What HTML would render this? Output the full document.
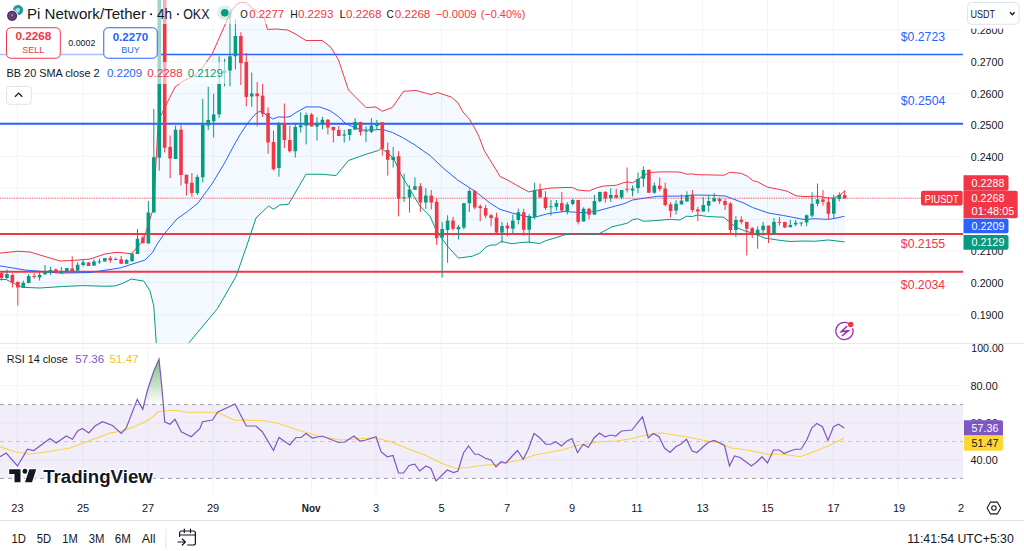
<!DOCTYPE html><html><head><meta charset="utf-8"><style>
html,body{margin:0;padding:0;background:#fff;width:1024px;height:551px;overflow:hidden}
svg{display:block;font-family:"Liberation Sans",sans-serif}
</style></head><body>
<svg width="1024" height="551" viewBox="0 0 1024 551">
<defs>
<clipPath id="pp"><rect x="0" y="0" width="963" height="343"/></clipPath>
<clipPath id="rp"><rect x="0" y="344" width="963" height="150"/></clipPath>
<clipPath id="above70"><rect x="0" y="344" width="963" height="60.6"/></clipPath>
<linearGradient id="gg" gradientUnits="userSpaceOnUse" x1="0" y1="359" x2="0" y2="404.6"><stop offset="0" stop-color="#43a047" stop-opacity="0.7"/><stop offset="1" stop-color="#43a047" stop-opacity="0"/></linearGradient>
</defs>
<line x1="17.5" y1="0" x2="17.5" y2="494" stroke="#f3f4f8" stroke-width="1"/>
<line x1="83" y1="0" x2="83" y2="494" stroke="#f3f4f8" stroke-width="1"/>
<line x1="148" y1="0" x2="148" y2="494" stroke="#f3f4f8" stroke-width="1"/>
<line x1="213" y1="0" x2="213" y2="494" stroke="#f3f4f8" stroke-width="1"/>
<line x1="311.5" y1="0" x2="311.5" y2="494" stroke="#f3f4f8" stroke-width="1"/>
<line x1="376" y1="0" x2="376" y2="494" stroke="#f3f4f8" stroke-width="1"/>
<line x1="441.5" y1="0" x2="441.5" y2="494" stroke="#f3f4f8" stroke-width="1"/>
<line x1="507" y1="0" x2="507" y2="494" stroke="#f3f4f8" stroke-width="1"/>
<line x1="572" y1="0" x2="572" y2="494" stroke="#f3f4f8" stroke-width="1"/>
<line x1="637" y1="0" x2="637" y2="494" stroke="#f3f4f8" stroke-width="1"/>
<line x1="702.5" y1="0" x2="702.5" y2="494" stroke="#f3f4f8" stroke-width="1"/>
<line x1="767.5" y1="0" x2="767.5" y2="494" stroke="#f3f4f8" stroke-width="1"/>
<line x1="833.5" y1="0" x2="833.5" y2="494" stroke="#f3f4f8" stroke-width="1"/>
<line x1="898" y1="0" x2="898" y2="494" stroke="#f3f4f8" stroke-width="1"/>
<line x1="0" y1="29.9" x2="963" y2="29.9" stroke="#f3f4f8" stroke-width="1"/>
<line x1="0" y1="61.7" x2="963" y2="61.7" stroke="#f3f4f8" stroke-width="1"/>
<line x1="0" y1="93.4" x2="963" y2="93.4" stroke="#f3f4f8" stroke-width="1"/>
<line x1="0" y1="124.9" x2="963" y2="124.9" stroke="#f3f4f8" stroke-width="1"/>
<line x1="0" y1="156.4" x2="963" y2="156.4" stroke="#f3f4f8" stroke-width="1"/>
<line x1="0" y1="187.9" x2="963" y2="187.9" stroke="#f3f4f8" stroke-width="1"/>
<line x1="0" y1="219.4" x2="963" y2="219.4" stroke="#f3f4f8" stroke-width="1"/>
<line x1="0" y1="250.9" x2="963" y2="250.9" stroke="#f3f4f8" stroke-width="1"/>
<line x1="0" y1="282.5" x2="963" y2="282.5" stroke="#f3f4f8" stroke-width="1"/>
<line x1="0" y1="314.9" x2="963" y2="314.9" stroke="#f3f4f8" stroke-width="1"/>
<line x1="0" y1="348" x2="963" y2="348" stroke="#f3f4f8" stroke-width="1"/>
<line x1="0" y1="385.7" x2="963" y2="385.7" stroke="#f3f4f8" stroke-width="1"/>
<line x1="0" y1="422.9" x2="963" y2="422.9" stroke="#f3f4f8" stroke-width="1"/>
<line x1="0" y1="460.2" x2="963" y2="460.2" stroke="#f3f4f8" stroke-width="1"/>
<g clip-path="url(#pp)">
<polygon points="0.00,253.10 18.00,251.25 30.00,252.00 60.00,261.00 75.00,260.30 90.00,259.00 105.00,254.00 115.00,252.50 120.00,252.50 131.25,253.75 143.00,241.00 150.00,219.00 153.75,207.00 156.00,162.00 158.00,125.00 160.60,116.00 175.00,87.00 183.75,80.60 193.75,76.25 202.25,68.00 212.25,53.75 231.00,11.25 237.25,3.75 240.40,2.50 246.25,2.75 251.25,7.50 258.75,12.50 264.40,18.75 267.50,29.40 276.25,29.00 287.50,30.00 295.00,33.75 306.00,40.50 322.25,40.50 331.00,47.50 338.50,60.00 348.50,90.00 366.00,107.50 376.00,107.00 382.25,111.25 392.25,107.50 403.50,91.25 416.00,90.50 431.00,94.50 437.25,92.50 451.40,97.10 458.00,102.90 462.90,111.80 469.40,119.20 474.30,127.30 479.20,137.10 484.10,150.20 489.00,158.40 496.30,170.00 500.00,176.50 507.50,180.00 516.25,185.00 528.75,191.90 537.50,190.00 550.00,188.10 564.00,187.50 572.50,187.50 577.50,190.00 588.75,191.00 597.50,187.50 603.75,186.00 616.25,185.25 624.00,182.50 627.50,181.90 632.50,182.75 637.50,180.00 643.75,175.00 651.25,172.50 660.00,171.90 676.25,171.90 681.10,172.30 686.60,174.20 691.25,173.90 697.50,174.70 724.00,175.20 729.50,172.30 741.20,173.30 747.80,176.50 752.70,180.60 757.60,181.80 767.40,187.20 778.80,189.30 787.00,191.20 796.00,195.80 805.00,196.60 818.00,196.10 827.80,198.10 834.40,197.80 839.30,195.30 845.00,190.90 844.50,241.90 828.50,240.00 814.75,241.25 804.00,241.00 790.00,241.50 777.50,240.00 765.00,238.10 752.50,233.10 744.00,230.60 736.25,227.50 730.00,222.50 723.75,217.25 707.50,216.50 697.50,215.00 692.50,216.50 686.25,216.25 680.00,220.00 670.00,219.40 655.00,220.60 643.75,221.25 637.50,218.75 632.50,219.75 627.50,223.10 620.00,225.00 612.00,226.75 598.25,234.25 572.00,233.75 563.75,235.00 554.75,238.10 546.00,240.60 539.75,243.50 528.50,242.10 521.00,242.50 512.25,243.75 506.00,242.50 501.60,241.25 496.00,245.00 491.00,245.00 486.00,246.90 479.75,253.10 472.25,256.25 458.50,258.10 448.50,247.50 441.00,237.50 435.00,227.50 430.00,216.25 420.00,206.25 415.00,198.00 408.75,187.50 401.25,175.00 393.75,158.75 387.50,152.50 381.00,148.50 378.50,150.50 366.00,154.25 348.50,160.50 336.00,175.50 321.00,174.25 306.00,174.25 288.50,204.25 279.75,205.00 273.50,209.25 268.50,206.00 256.00,218.00 246.00,248.00 236.25,276.00 217.50,308.50 188.75,343.00 188.00,360.00 157.00,360.00 156.25,343.00 153.75,306.00 150.00,291.00 143.75,281.00 140.00,280.50 131.25,279.00 122.50,283.50 115.00,286.00 105.00,286.25 82.50,285.60 62.50,286.50 40.00,288.00 22.00,287.30 6.00,279.50 0.00,279.50" fill="#2196f3" fill-opacity="0.055" stroke="none"/>
<line x1="0" y1="54.45" x2="963" y2="54.45" stroke="#2962ff" stroke-width="1.6"/>
<line x1="0" y1="123.8" x2="963" y2="123.8" stroke="#2962ff" stroke-width="2"/>
<line x1="0" y1="234.1" x2="963" y2="234.1" stroke="#f23645" stroke-width="2"/>
<line x1="0" y1="271.7" x2="963" y2="271.7" stroke="#f23645" stroke-width="2"/>
<polyline points="0.00,253.10 18.00,251.25 30.00,252.00 60.00,261.00 75.00,260.30 90.00,259.00 105.00,254.00 115.00,252.50 120.00,252.50 131.25,253.75 143.00,241.00 150.00,219.00 153.75,207.00 156.00,162.00 158.00,125.00 160.60,116.00 175.00,87.00 183.75,80.60 193.75,76.25 202.25,68.00 212.25,53.75 231.00,11.25 237.25,3.75 240.40,2.50 246.25,2.75 251.25,7.50 258.75,12.50 264.40,18.75 267.50,29.40 276.25,29.00 287.50,30.00 295.00,33.75 306.00,40.50 322.25,40.50 331.00,47.50 338.50,60.00 348.50,90.00 366.00,107.50 376.00,107.00 382.25,111.25 392.25,107.50 403.50,91.25 416.00,90.50 431.00,94.50 437.25,92.50 451.40,97.10 458.00,102.90 462.90,111.80 469.40,119.20 474.30,127.30 479.20,137.10 484.10,150.20 489.00,158.40 496.30,170.00 500.00,176.50 507.50,180.00 516.25,185.00 528.75,191.90 537.50,190.00 550.00,188.10 564.00,187.50 572.50,187.50 577.50,190.00 588.75,191.00 597.50,187.50 603.75,186.00 616.25,185.25 624.00,182.50 627.50,181.90 632.50,182.75 637.50,180.00 643.75,175.00 651.25,172.50 660.00,171.90 676.25,171.90 681.10,172.30 686.60,174.20 691.25,173.90 697.50,174.70 724.00,175.20 729.50,172.30 741.20,173.30 747.80,176.50 752.70,180.60 757.60,181.80 767.40,187.20 778.80,189.30 787.00,191.20 796.00,195.80 805.00,196.60 818.00,196.10 827.80,198.10 834.40,197.80 839.30,195.30 845.00,190.90" fill="none" stroke="#f23645" stroke-width="1"/>
<polyline points="0.00,265.90 25.00,270.00 60.00,273.10 90.00,272.50 120.00,268.00 145.00,260.00 152.50,252.50 157.20,244.00 164.50,233.50 176.90,219.00 187.25,211.70 197.60,203.50 212.00,183.80 224.50,163.10 234.70,144.00 240.80,133.50 247.80,123.00 253.90,115.60 258.20,112.10 260.80,111.25 266.10,114.70 273.00,119.10 278.30,116.90 285.20,117.30 290.00,116.50 296.00,112.50 306.00,106.90 320.00,107.00 330.00,110.60 338.75,116.90 345.00,123.00 351.25,126.25 362.50,130.00 372.50,130.00 382.50,129.40 392.50,132.50 402.50,137.50 415.00,145.00 430.00,155.60 444.00,168.75 457.50,180.00 475.00,191.25 490.00,203.00 500.00,209.40 512.50,213.10 525.00,216.25 533.75,217.50 547.50,213.75 564.00,211.50 576.25,212.25 585.00,212.75 596.25,211.25 610.00,207.50 624.00,203.75 632.50,200.00 645.00,198.10 657.50,196.25 684.00,196.00 692.50,195.00 711.25,195.25 725.00,196.00 732.50,198.75 744.00,203.10 752.50,207.50 768.75,213.10 783.75,215.60 804.00,219.50 814.75,218.75 828.50,219.40 836.00,218.10 844.50,216.25" fill="none" stroke="#2962ff" stroke-width="1"/>
<polyline points="0.00,279.50 6.00,279.50 22.00,287.30 40.00,288.00 62.50,286.50 82.50,285.60 105.00,286.25 115.00,286.00 122.50,283.50 131.25,279.00 140.00,280.50 143.75,281.00 150.00,291.00 153.75,306.00 156.25,343.00 157.00,360.00" fill="none" stroke="#089981" stroke-width="1"/>
<polyline points="188.00,360.00 188.75,343.00 217.50,308.50 236.25,276.00 246.00,248.00 256.00,218.00 268.50,206.00 273.50,209.25 279.75,205.00 288.50,204.25 306.00,174.25 321.00,174.25 336.00,175.50 348.50,160.50 366.00,154.25 378.50,150.50 381.00,148.50 387.50,152.50 393.75,158.75 401.25,175.00 408.75,187.50 415.00,198.00 420.00,206.25 430.00,216.25 435.00,227.50 441.00,237.50 448.50,247.50 458.50,258.10 472.25,256.25 479.75,253.10 486.00,246.90 491.00,245.00 496.00,245.00 501.60,241.25 506.00,242.50 512.25,243.75 521.00,242.50 528.50,242.10 539.75,243.50 546.00,240.60 554.75,238.10 563.75,235.00 572.00,233.75 598.25,234.25 612.00,226.75 620.00,225.00 627.50,223.10 632.50,219.75 637.50,218.75 643.75,221.25 655.00,220.60 670.00,219.40 680.00,220.00 686.25,216.25 692.50,216.50 697.50,215.00 707.50,216.50 723.75,217.25 730.00,222.50 736.25,227.50 744.00,230.60 752.50,233.10 765.00,238.10 777.50,240.00 790.00,241.50 804.00,241.00 814.75,241.25 828.50,240.00 844.50,241.90" fill="none" stroke="#089981" stroke-width="1"/>
<line x1="0" y1="198.2" x2="921" y2="198.2" stroke="#f23645" stroke-width="1" stroke-dasharray="0.85,0.93" stroke-opacity="0.95"/>
<line x1="1.50" y1="272.5" x2="1.50" y2="280.6" stroke="#f23645" stroke-width="1"/>
<rect x="-0.30" y="273.1" width="3.6" height="5.00" fill="#f23645"/>
<line x1="6.94" y1="269.4" x2="6.94" y2="278.8" stroke="#089981" stroke-width="1"/>
<rect x="5.14" y="274.0" width="3.6" height="4.10" fill="#089981"/>
<line x1="12.38" y1="273.5" x2="12.38" y2="287.5" stroke="#f23645" stroke-width="1"/>
<rect x="10.58" y="275.0" width="3.6" height="7.50" fill="#f23645"/>
<line x1="17.82" y1="281.5" x2="17.82" y2="305.6" stroke="#f23645" stroke-width="1"/>
<rect x="16.02" y="281.9" width="3.6" height="5.60" fill="#f23645"/>
<line x1="23.26" y1="280.6" x2="23.26" y2="287.5" stroke="#089981" stroke-width="1"/>
<rect x="21.46" y="282.8" width="3.6" height="4.70" fill="#089981"/>
<line x1="28.70" y1="274.0" x2="28.70" y2="283.1" stroke="#089981" stroke-width="1"/>
<rect x="26.90" y="276.0" width="3.6" height="7.10" fill="#089981"/>
<line x1="34.14" y1="273.1" x2="34.14" y2="278.8" stroke="#f23645" stroke-width="1"/>
<rect x="32.34" y="276.0" width="3.6" height="1.00" fill="#f23645"/>
<line x1="39.58" y1="270.6" x2="39.58" y2="280.6" stroke="#089981" stroke-width="1"/>
<rect x="37.78" y="275.0" width="3.6" height="2.50" fill="#089981"/>
<line x1="45.02" y1="265.0" x2="45.02" y2="274.4" stroke="#089981" stroke-width="1"/>
<rect x="43.22" y="271.3" width="3.6" height="3.10" fill="#089981"/>
<line x1="50.46" y1="266.9" x2="50.46" y2="275.0" stroke="#089981" stroke-width="1"/>
<rect x="48.66" y="270.0" width="3.6" height="1.00" fill="#089981"/>
<line x1="55.90" y1="268.5" x2="55.90" y2="273.5" stroke="#f23645" stroke-width="1"/>
<rect x="54.10" y="269.4" width="3.6" height="3.40" fill="#f23645"/>
<line x1="61.34" y1="266.9" x2="61.34" y2="273.8" stroke="#089981" stroke-width="1"/>
<rect x="59.54" y="271.0" width="3.6" height="2.10" fill="#089981"/>
<line x1="66.78" y1="268.0" x2="66.78" y2="272.0" stroke="#089981" stroke-width="1"/>
<rect x="64.98" y="268.1" width="3.6" height="3.80" fill="#089981"/>
<line x1="72.22" y1="256.3" x2="72.22" y2="271.3" stroke="#f23645" stroke-width="1"/>
<rect x="70.42" y="268.5" width="3.6" height="2.80" fill="#f23645"/>
<line x1="77.66" y1="262.3" x2="77.66" y2="270.6" stroke="#089981" stroke-width="1"/>
<rect x="75.86" y="264.8" width="3.6" height="5.80" fill="#089981"/>
<line x1="83.10" y1="259.4" x2="83.10" y2="266.3" stroke="#089981" stroke-width="1"/>
<rect x="81.30" y="262.3" width="3.6" height="2.70" fill="#089981"/>
<line x1="88.54" y1="262.0" x2="88.54" y2="266.0" stroke="#f23645" stroke-width="1"/>
<rect x="86.74" y="262.5" width="3.6" height="3.50" fill="#f23645"/>
<line x1="93.98" y1="259.4" x2="93.98" y2="265.6" stroke="#089981" stroke-width="1"/>
<rect x="92.18" y="261.5" width="3.6" height="4.10" fill="#089981"/>
<line x1="99.42" y1="258.8" x2="99.42" y2="263.8" stroke="#089981" stroke-width="1"/>
<rect x="97.62" y="261.3" width="3.6" height="1.00" fill="#089981"/>
<line x1="104.86" y1="258.0" x2="104.86" y2="261.5" stroke="#089981" stroke-width="1"/>
<rect x="103.06" y="258.1" width="3.6" height="3.40" fill="#089981"/>
<line x1="110.30" y1="256.0" x2="110.30" y2="262.8" stroke="#f23645" stroke-width="1"/>
<rect x="108.50" y="258.1" width="3.6" height="2.20" fill="#f23645"/>
<line x1="115.74" y1="257.5" x2="115.74" y2="260.0" stroke="#f23645" stroke-width="1"/>
<rect x="113.94" y="259.0" width="3.6" height="1.00" fill="#f23645"/>
<line x1="121.18" y1="256.0" x2="121.18" y2="263.8" stroke="#f23645" stroke-width="1"/>
<rect x="119.38" y="259.4" width="3.6" height="4.40" fill="#f23645"/>
<line x1="126.62" y1="259.0" x2="126.62" y2="263.8" stroke="#089981" stroke-width="1"/>
<rect x="124.82" y="260.0" width="3.6" height="3.80" fill="#089981"/>
<line x1="132.06" y1="253.0" x2="132.06" y2="261.5" stroke="#089981" stroke-width="1"/>
<rect x="130.26" y="253.75" width="3.6" height="7.50" fill="#089981"/>
<line x1="137.50" y1="229.0" x2="137.50" y2="254.0" stroke="#089981" stroke-width="1"/>
<rect x="135.70" y="238.75" width="3.6" height="15.25" fill="#089981"/>
<line x1="142.94" y1="235.6" x2="142.94" y2="243.5" stroke="#f23645" stroke-width="1"/>
<rect x="141.14" y="237.5" width="3.6" height="5.60" fill="#f23645"/>
<line x1="148.38" y1="201.0" x2="148.38" y2="243.5" stroke="#089981" stroke-width="1"/>
<rect x="146.58" y="212.5" width="3.6" height="31.00" fill="#089981"/>
<line x1="153.82" y1="108.75" x2="153.82" y2="212.5" stroke="#089981" stroke-width="1"/>
<rect x="152.02" y="157.25" width="3.6" height="55.25" fill="#089981"/>
<line x1="159.26" y1="-5.0" x2="159.26" y2="170.6" stroke="#089981" stroke-width="1"/>
<rect x="157.46" y="-5.0" width="3.6" height="162.75" fill="#089981"/>
<line x1="164.70" y1="-5.0" x2="164.70" y2="152.5" stroke="#f23645" stroke-width="1"/>
<rect x="162.90" y="-5.0" width="3.6" height="152.75" fill="#f23645"/>
<line x1="170.14" y1="135.6" x2="170.14" y2="178.1" stroke="#f23645" stroke-width="1"/>
<rect x="168.34" y="146.9" width="3.6" height="11.60" fill="#f23645"/>
<line x1="175.58" y1="125.6" x2="175.58" y2="159.0" stroke="#089981" stroke-width="1"/>
<rect x="173.78" y="129.75" width="3.6" height="29.25" fill="#089981"/>
<line x1="181.02" y1="125.0" x2="181.02" y2="185.6" stroke="#f23645" stroke-width="1"/>
<rect x="179.22" y="129.75" width="3.6" height="45.25" fill="#f23645"/>
<line x1="186.46" y1="174.75" x2="186.46" y2="195.5" stroke="#f23645" stroke-width="1"/>
<rect x="184.66" y="174.75" width="3.6" height="9.00" fill="#f23645"/>
<line x1="191.90" y1="173.1" x2="191.90" y2="196.75" stroke="#f23645" stroke-width="1"/>
<rect x="190.10" y="182.75" width="3.6" height="10.35" fill="#f23645"/>
<line x1="197.34" y1="174.75" x2="197.34" y2="195.0" stroke="#089981" stroke-width="1"/>
<rect x="195.54" y="176.9" width="3.6" height="16.20" fill="#089981"/>
<line x1="202.78" y1="98.75" x2="202.78" y2="182.5" stroke="#089981" stroke-width="1"/>
<rect x="200.98" y="124.4" width="3.6" height="52.85" fill="#089981"/>
<line x1="208.22" y1="86.9" x2="208.22" y2="130.0" stroke="#089981" stroke-width="1"/>
<rect x="206.42" y="120.0" width="3.6" height="5.60" fill="#089981"/>
<line x1="213.66" y1="93.75" x2="213.66" y2="137.5" stroke="#089981" stroke-width="1"/>
<rect x="211.86" y="114.4" width="3.6" height="6.85" fill="#089981"/>
<line x1="219.10" y1="56.25" x2="219.10" y2="118.0" stroke="#089981" stroke-width="1"/>
<rect x="217.30" y="83.75" width="3.6" height="30.65" fill="#089981"/>
<line x1="224.54" y1="58.75" x2="224.54" y2="86.25" stroke="#089981" stroke-width="1"/>
<rect x="222.74" y="70.6" width="3.6" height="2.50" fill="#089981"/>
<line x1="229.98" y1="11.9" x2="229.98" y2="86.25" stroke="#089981" stroke-width="1"/>
<rect x="228.18" y="56.25" width="3.6" height="14.35" fill="#089981"/>
<line x1="235.42" y1="19.4" x2="235.42" y2="69.4" stroke="#089981" stroke-width="1"/>
<rect x="233.62" y="36.0" width="3.6" height="20.25" fill="#089981"/>
<line x1="240.86" y1="32.25" x2="240.86" y2="85.0" stroke="#f23645" stroke-width="1"/>
<rect x="239.06" y="36.0" width="3.6" height="27.10" fill="#f23645"/>
<line x1="246.30" y1="53.1" x2="246.30" y2="106.25" stroke="#f23645" stroke-width="1"/>
<rect x="244.50" y="61.9" width="3.6" height="35.00" fill="#f23645"/>
<line x1="251.74" y1="72.5" x2="251.74" y2="106.9" stroke="#089981" stroke-width="1"/>
<rect x="249.94" y="93.5" width="3.6" height="3.00" fill="#089981"/>
<line x1="257.18" y1="81.9" x2="257.18" y2="126.25" stroke="#f23645" stroke-width="1"/>
<rect x="255.38" y="93.5" width="3.6" height="2.75" fill="#f23645"/>
<line x1="262.62" y1="84.0" x2="262.62" y2="116.9" stroke="#f23645" stroke-width="1"/>
<rect x="260.82" y="95.6" width="3.6" height="18.15" fill="#f23645"/>
<line x1="268.06" y1="107.5" x2="268.06" y2="153.75" stroke="#f23645" stroke-width="1"/>
<rect x="266.26" y="113.1" width="3.6" height="29.40" fill="#f23645"/>
<line x1="273.50" y1="130.6" x2="273.50" y2="170.5" stroke="#f23645" stroke-width="1"/>
<rect x="271.70" y="141.9" width="3.6" height="27.35" fill="#f23645"/>
<line x1="278.94" y1="121.9" x2="278.94" y2="176.75" stroke="#089981" stroke-width="1"/>
<rect x="277.14" y="123.75" width="3.6" height="44.25" fill="#089981"/>
<line x1="284.38" y1="103.5" x2="284.38" y2="148.1" stroke="#f23645" stroke-width="1"/>
<rect x="282.58" y="123.1" width="3.6" height="16.90" fill="#f23645"/>
<line x1="289.82" y1="125.6" x2="289.82" y2="152.5" stroke="#f23645" stroke-width="1"/>
<rect x="288.02" y="140.0" width="3.6" height="11.25" fill="#f23645"/>
<line x1="295.26" y1="122.75" x2="295.26" y2="157.5" stroke="#089981" stroke-width="1"/>
<rect x="293.46" y="126.9" width="3.6" height="24.35" fill="#089981"/>
<line x1="300.70" y1="112.25" x2="300.70" y2="132.5" stroke="#089981" stroke-width="1"/>
<rect x="298.90" y="125.25" width="3.6" height="2.00" fill="#089981"/>
<line x1="306.14" y1="112.5" x2="306.14" y2="144.4" stroke="#089981" stroke-width="1"/>
<rect x="304.34" y="115.0" width="3.6" height="10.60" fill="#089981"/>
<line x1="311.58" y1="113.1" x2="311.58" y2="126.5" stroke="#f23645" stroke-width="1"/>
<rect x="309.78" y="114.4" width="3.6" height="12.10" fill="#f23645"/>
<line x1="317.02" y1="117.25" x2="317.02" y2="140.6" stroke="#089981" stroke-width="1"/>
<rect x="315.22" y="122.75" width="3.6" height="3.75" fill="#089981"/>
<line x1="322.46" y1="116.9" x2="322.46" y2="129.4" stroke="#089981" stroke-width="1"/>
<rect x="320.66" y="119.75" width="3.6" height="3.35" fill="#089981"/>
<line x1="327.90" y1="119.0" x2="327.90" y2="134.4" stroke="#f23645" stroke-width="1"/>
<rect x="326.10" y="119.75" width="3.6" height="7.75" fill="#f23645"/>
<line x1="333.34" y1="126.9" x2="333.34" y2="142.5" stroke="#f23645" stroke-width="1"/>
<rect x="331.54" y="126.9" width="3.6" height="3.35" fill="#f23645"/>
<line x1="338.78" y1="126.25" x2="338.78" y2="136.0" stroke="#f23645" stroke-width="1"/>
<rect x="336.98" y="130.0" width="3.6" height="6.00" fill="#f23645"/>
<line x1="344.22" y1="130.0" x2="344.22" y2="142.5" stroke="#089981" stroke-width="1"/>
<rect x="342.42" y="134.4" width="3.6" height="1.20" fill="#089981"/>
<line x1="349.66" y1="129.0" x2="349.66" y2="140.6" stroke="#089981" stroke-width="1"/>
<rect x="347.86" y="129.0" width="3.6" height="6.00" fill="#089981"/>
<line x1="355.10" y1="118.1" x2="355.10" y2="129.75" stroke="#089981" stroke-width="1"/>
<rect x="353.30" y="121.9" width="3.6" height="7.85" fill="#089981"/>
<line x1="360.54" y1="121.9" x2="360.54" y2="135.6" stroke="#f23645" stroke-width="1"/>
<rect x="358.74" y="121.9" width="3.6" height="10.00" fill="#f23645"/>
<line x1="365.98" y1="126.25" x2="365.98" y2="141.9" stroke="#089981" stroke-width="1"/>
<rect x="364.18" y="130.6" width="3.6" height="1.00" fill="#089981"/>
<line x1="371.42" y1="118.1" x2="371.42" y2="133.1" stroke="#089981" stroke-width="1"/>
<rect x="369.62" y="125.6" width="3.6" height="6.30" fill="#089981"/>
<line x1="376.86" y1="120.0" x2="376.86" y2="130.0" stroke="#089981" stroke-width="1"/>
<rect x="375.06" y="123.1" width="3.6" height="2.90" fill="#089981"/>
<line x1="382.30" y1="122.25" x2="382.30" y2="155.6" stroke="#f23645" stroke-width="1"/>
<rect x="380.50" y="122.25" width="3.6" height="26.50" fill="#f23645"/>
<line x1="387.74" y1="142.5" x2="387.74" y2="175.6" stroke="#f23645" stroke-width="1"/>
<rect x="385.94" y="150.0" width="3.6" height="9.75" fill="#f23645"/>
<line x1="393.18" y1="146.9" x2="393.18" y2="167.5" stroke="#089981" stroke-width="1"/>
<rect x="391.38" y="156.9" width="3.6" height="3.10" fill="#089981"/>
<line x1="398.62" y1="151.25" x2="398.62" y2="216.25" stroke="#f23645" stroke-width="1"/>
<rect x="396.82" y="156.25" width="3.6" height="42.50" fill="#f23645"/>
<line x1="404.06" y1="173.75" x2="404.06" y2="201.9" stroke="#089981" stroke-width="1"/>
<rect x="402.26" y="197.25" width="3.6" height="1.00" fill="#089981"/>
<line x1="409.50" y1="185.0" x2="409.50" y2="212.5" stroke="#089981" stroke-width="1"/>
<rect x="407.70" y="189.4" width="3.6" height="8.10" fill="#089981"/>
<line x1="414.94" y1="177.5" x2="414.94" y2="189.75" stroke="#089981" stroke-width="1"/>
<rect x="413.14" y="186.25" width="3.6" height="3.50" fill="#089981"/>
<line x1="420.38" y1="183.1" x2="420.38" y2="211.9" stroke="#f23645" stroke-width="1"/>
<rect x="418.58" y="186.25" width="3.6" height="16.25" fill="#f23645"/>
<line x1="425.82" y1="188.1" x2="425.82" y2="208.75" stroke="#089981" stroke-width="1"/>
<rect x="424.02" y="195.6" width="3.6" height="6.90" fill="#089981"/>
<line x1="431.26" y1="190.0" x2="431.26" y2="209.4" stroke="#f23645" stroke-width="1"/>
<rect x="429.46" y="195.6" width="3.6" height="6.90" fill="#f23645"/>
<line x1="436.70" y1="198.75" x2="436.70" y2="245.0" stroke="#f23645" stroke-width="1"/>
<rect x="434.90" y="201.9" width="3.6" height="36.20" fill="#f23645"/>
<line x1="442.14" y1="221.9" x2="442.14" y2="277.5" stroke="#089981" stroke-width="1"/>
<rect x="440.34" y="229.0" width="3.6" height="8.50" fill="#089981"/>
<line x1="447.58" y1="215.25" x2="447.58" y2="262.75" stroke="#089981" stroke-width="1"/>
<rect x="445.78" y="220.6" width="3.6" height="9.40" fill="#089981"/>
<line x1="453.02" y1="216.9" x2="453.02" y2="230.6" stroke="#f23645" stroke-width="1"/>
<rect x="451.22" y="220.6" width="3.6" height="8.15" fill="#f23645"/>
<line x1="458.46" y1="225.0" x2="458.46" y2="239.4" stroke="#089981" stroke-width="1"/>
<rect x="456.66" y="226.9" width="3.6" height="2.50" fill="#089981"/>
<line x1="463.90" y1="203.1" x2="463.90" y2="229.4" stroke="#089981" stroke-width="1"/>
<rect x="462.10" y="203.1" width="3.6" height="24.40" fill="#089981"/>
<line x1="469.34" y1="188.75" x2="469.34" y2="211.9" stroke="#089981" stroke-width="1"/>
<rect x="467.54" y="191.0" width="3.6" height="12.10" fill="#089981"/>
<line x1="474.78" y1="190.0" x2="474.78" y2="209.4" stroke="#f23645" stroke-width="1"/>
<rect x="472.98" y="191.0" width="3.6" height="16.50" fill="#f23645"/>
<line x1="480.22" y1="204.4" x2="480.22" y2="221.25" stroke="#f23645" stroke-width="1"/>
<rect x="478.42" y="206.25" width="3.6" height="1.85" fill="#f23645"/>
<line x1="485.66" y1="205.0" x2="485.66" y2="218.1" stroke="#f23645" stroke-width="1"/>
<rect x="483.86" y="208.1" width="3.6" height="7.50" fill="#f23645"/>
<line x1="491.10" y1="213.75" x2="491.10" y2="226.25" stroke="#f23645" stroke-width="1"/>
<rect x="489.30" y="215.25" width="3.6" height="2.85" fill="#f23645"/>
<line x1="496.54" y1="212.75" x2="496.54" y2="235.0" stroke="#f23645" stroke-width="1"/>
<rect x="494.74" y="217.5" width="3.6" height="15.00" fill="#f23645"/>
<line x1="501.98" y1="221.9" x2="501.98" y2="243.1" stroke="#089981" stroke-width="1"/>
<rect x="500.18" y="226.0" width="3.6" height="6.50" fill="#089981"/>
<line x1="507.42" y1="222.5" x2="507.42" y2="236.25" stroke="#f23645" stroke-width="1"/>
<rect x="505.62" y="225.6" width="3.6" height="2.90" fill="#f23645"/>
<line x1="512.86" y1="214.4" x2="512.86" y2="233.1" stroke="#089981" stroke-width="1"/>
<rect x="511.06" y="220.6" width="3.6" height="8.15" fill="#089981"/>
<line x1="518.30" y1="208.75" x2="518.30" y2="224.4" stroke="#089981" stroke-width="1"/>
<rect x="516.50" y="212.25" width="3.6" height="7.75" fill="#089981"/>
<line x1="523.74" y1="208.75" x2="523.74" y2="235.6" stroke="#f23645" stroke-width="1"/>
<rect x="521.94" y="212.25" width="3.6" height="17.50" fill="#f23645"/>
<line x1="529.18" y1="214.0" x2="529.18" y2="243.1" stroke="#089981" stroke-width="1"/>
<rect x="527.38" y="216.0" width="3.6" height="13.75" fill="#089981"/>
<line x1="534.62" y1="182.75" x2="534.62" y2="219.4" stroke="#089981" stroke-width="1"/>
<rect x="532.82" y="190.0" width="3.6" height="26.90" fill="#089981"/>
<line x1="540.06" y1="183.5" x2="540.06" y2="197.5" stroke="#f23645" stroke-width="1"/>
<rect x="538.26" y="190.0" width="3.6" height="7.50" fill="#f23645"/>
<line x1="545.50" y1="191.25" x2="545.50" y2="209.75" stroke="#f23645" stroke-width="1"/>
<rect x="543.70" y="197.25" width="3.6" height="10.85" fill="#f23645"/>
<line x1="550.94" y1="200.0" x2="550.94" y2="215.6" stroke="#089981" stroke-width="1"/>
<rect x="549.14" y="206.25" width="3.6" height="1.00" fill="#089981"/>
<line x1="556.38" y1="200.0" x2="556.38" y2="210.6" stroke="#089981" stroke-width="1"/>
<rect x="554.58" y="203.1" width="3.6" height="3.80" fill="#089981"/>
<line x1="561.82" y1="191.9" x2="561.82" y2="212.5" stroke="#f23645" stroke-width="1"/>
<rect x="560.02" y="203.1" width="3.6" height="7.50" fill="#f23645"/>
<line x1="567.26" y1="202.25" x2="567.26" y2="214.4" stroke="#089981" stroke-width="1"/>
<rect x="565.46" y="204.4" width="3.6" height="6.85" fill="#089981"/>
<line x1="572.70" y1="198.75" x2="572.70" y2="205.6" stroke="#089981" stroke-width="1"/>
<rect x="570.90" y="200.0" width="3.6" height="4.00" fill="#089981"/>
<line x1="578.14" y1="200.0" x2="578.14" y2="224.4" stroke="#f23645" stroke-width="1"/>
<rect x="576.34" y="200.0" width="3.6" height="21.90" fill="#f23645"/>
<line x1="583.58" y1="207.25" x2="583.58" y2="221.5" stroke="#089981" stroke-width="1"/>
<rect x="581.78" y="208.75" width="3.6" height="12.75" fill="#089981"/>
<line x1="589.02" y1="207.75" x2="589.02" y2="219.4" stroke="#f23645" stroke-width="1"/>
<rect x="587.22" y="208.75" width="3.6" height="6.00" fill="#f23645"/>
<line x1="594.46" y1="195.0" x2="594.46" y2="214.75" stroke="#089981" stroke-width="1"/>
<rect x="592.66" y="201.0" width="3.6" height="13.75" fill="#089981"/>
<line x1="599.90" y1="191.9" x2="599.90" y2="202.5" stroke="#089981" stroke-width="1"/>
<rect x="598.10" y="191.9" width="3.6" height="9.35" fill="#089981"/>
<line x1="605.34" y1="191.0" x2="605.34" y2="202.5" stroke="#f23645" stroke-width="1"/>
<rect x="603.54" y="191.9" width="3.6" height="6.60" fill="#f23645"/>
<line x1="610.78" y1="188.1" x2="610.78" y2="201.9" stroke="#089981" stroke-width="1"/>
<rect x="608.98" y="195.0" width="3.6" height="3.10" fill="#089981"/>
<line x1="616.22" y1="188.75" x2="616.22" y2="197.75" stroke="#f23645" stroke-width="1"/>
<rect x="614.42" y="195.0" width="3.6" height="2.75" fill="#f23645"/>
<line x1="621.66" y1="190.0" x2="621.66" y2="199.4" stroke="#089981" stroke-width="1"/>
<rect x="619.86" y="190.0" width="3.6" height="7.50" fill="#089981"/>
<line x1="627.10" y1="167.5" x2="627.10" y2="192.5" stroke="#f23645" stroke-width="1"/>
<rect x="625.30" y="188.75" width="3.6" height="1.00" fill="#f23645"/>
<line x1="632.54" y1="185.6" x2="632.54" y2="196.25" stroke="#089981" stroke-width="1"/>
<rect x="630.74" y="188.5" width="3.6" height="2.10" fill="#089981"/>
<line x1="637.98" y1="172.5" x2="637.98" y2="193.1" stroke="#089981" stroke-width="1"/>
<rect x="636.18" y="179.0" width="3.6" height="9.10" fill="#089981"/>
<line x1="643.42" y1="166.5" x2="643.42" y2="186.9" stroke="#089981" stroke-width="1"/>
<rect x="641.62" y="170.0" width="3.6" height="8.75" fill="#089981"/>
<line x1="648.86" y1="169.75" x2="648.86" y2="192.75" stroke="#f23645" stroke-width="1"/>
<rect x="647.06" y="169.75" width="3.6" height="23.00" fill="#f23645"/>
<line x1="654.30" y1="182.5" x2="654.30" y2="193.75" stroke="#089981" stroke-width="1"/>
<rect x="652.50" y="185.6" width="3.6" height="7.15" fill="#089981"/>
<line x1="659.74" y1="177.5" x2="659.74" y2="191.25" stroke="#f23645" stroke-width="1"/>
<rect x="657.94" y="185.6" width="3.6" height="3.40" fill="#f23645"/>
<line x1="665.18" y1="182.5" x2="665.18" y2="206.5" stroke="#f23645" stroke-width="1"/>
<rect x="663.38" y="188.5" width="3.6" height="16.50" fill="#f23645"/>
<line x1="670.62" y1="202.25" x2="670.62" y2="217.5" stroke="#f23645" stroke-width="1"/>
<rect x="668.82" y="204.4" width="3.6" height="6.60" fill="#f23645"/>
<line x1="676.06" y1="200.25" x2="676.06" y2="214.4" stroke="#089981" stroke-width="1"/>
<rect x="674.26" y="203.75" width="3.6" height="6.85" fill="#089981"/>
<line x1="681.50" y1="194.4" x2="681.50" y2="204.4" stroke="#089981" stroke-width="1"/>
<rect x="679.70" y="200.6" width="3.6" height="3.80" fill="#089981"/>
<line x1="686.94" y1="191.25" x2="686.94" y2="201.5" stroke="#089981" stroke-width="1"/>
<rect x="685.14" y="195.0" width="3.6" height="6.50" fill="#089981"/>
<line x1="692.38" y1="190.0" x2="692.38" y2="212.25" stroke="#f23645" stroke-width="1"/>
<rect x="690.58" y="195.0" width="3.6" height="15.00" fill="#f23645"/>
<line x1="697.82" y1="206.9" x2="697.82" y2="221.25" stroke="#f23645" stroke-width="1"/>
<rect x="696.02" y="209.4" width="3.6" height="2.10" fill="#f23645"/>
<line x1="703.26" y1="196.9" x2="703.26" y2="211.5" stroke="#089981" stroke-width="1"/>
<rect x="701.46" y="205.0" width="3.6" height="6.50" fill="#089981"/>
<line x1="708.70" y1="195.6" x2="708.70" y2="211.9" stroke="#089981" stroke-width="1"/>
<rect x="706.90" y="201.0" width="3.6" height="4.60" fill="#089981"/>
<line x1="714.14" y1="193.1" x2="714.14" y2="201.5" stroke="#089981" stroke-width="1"/>
<rect x="712.34" y="198.1" width="3.6" height="3.40" fill="#089981"/>
<line x1="719.58" y1="197.5" x2="719.58" y2="204.0" stroke="#f23645" stroke-width="1"/>
<rect x="717.78" y="198.75" width="3.6" height="2.50" fill="#f23645"/>
<line x1="725.02" y1="198.75" x2="725.02" y2="210.0" stroke="#f23645" stroke-width="1"/>
<rect x="723.22" y="201.0" width="3.6" height="4.00" fill="#f23645"/>
<line x1="730.46" y1="202.25" x2="730.46" y2="233.75" stroke="#f23645" stroke-width="1"/>
<rect x="728.66" y="203.5" width="3.6" height="26.50" fill="#f23645"/>
<line x1="735.90" y1="216.25" x2="735.90" y2="236.9" stroke="#089981" stroke-width="1"/>
<rect x="734.10" y="220.0" width="3.6" height="10.00" fill="#089981"/>
<line x1="741.34" y1="216.25" x2="741.34" y2="224.4" stroke="#f23645" stroke-width="1"/>
<rect x="739.54" y="219.75" width="3.6" height="2.15" fill="#f23645"/>
<line x1="746.78" y1="221.9" x2="746.78" y2="255.6" stroke="#f23645" stroke-width="1"/>
<rect x="744.98" y="221.9" width="3.6" height="6.85" fill="#f23645"/>
<line x1="752.22" y1="227.0" x2="752.22" y2="238.1" stroke="#f23645" stroke-width="1"/>
<rect x="750.42" y="228.1" width="3.6" height="5.90" fill="#f23645"/>
<line x1="757.66" y1="226.25" x2="757.66" y2="248.75" stroke="#089981" stroke-width="1"/>
<rect x="755.86" y="229.75" width="3.6" height="4.65" fill="#089981"/>
<line x1="763.10" y1="221.9" x2="763.10" y2="235.6" stroke="#089981" stroke-width="1"/>
<rect x="761.30" y="225.6" width="3.6" height="4.65" fill="#089981"/>
<line x1="768.54" y1="225.6" x2="768.54" y2="243.1" stroke="#f23645" stroke-width="1"/>
<rect x="766.74" y="225.6" width="3.6" height="8.80" fill="#f23645"/>
<line x1="773.98" y1="218.1" x2="773.98" y2="234.4" stroke="#089981" stroke-width="1"/>
<rect x="772.18" y="221.9" width="3.6" height="12.50" fill="#089981"/>
<line x1="779.42" y1="217.25" x2="779.42" y2="225.6" stroke="#f23645" stroke-width="1"/>
<rect x="777.62" y="221.9" width="3.6" height="1.00" fill="#f23645"/>
<line x1="784.86" y1="221.9" x2="784.86" y2="228.1" stroke="#f23645" stroke-width="1"/>
<rect x="783.06" y="221.9" width="3.6" height="5.60" fill="#f23645"/>
<line x1="790.30" y1="220.0" x2="790.30" y2="227.25" stroke="#089981" stroke-width="1"/>
<rect x="788.50" y="225.0" width="3.6" height="2.25" fill="#089981"/>
<line x1="795.74" y1="220.0" x2="795.74" y2="226.25" stroke="#089981" stroke-width="1"/>
<rect x="793.94" y="222.75" width="3.6" height="1.65" fill="#089981"/>
<line x1="801.18" y1="222.5" x2="801.18" y2="226.25" stroke="#089981" stroke-width="1"/>
<rect x="799.38" y="222.5" width="3.6" height="1.00" fill="#089981"/>
<line x1="806.62" y1="214.5" x2="806.62" y2="226.25" stroke="#089981" stroke-width="1"/>
<rect x="804.82" y="215.25" width="3.6" height="7.25" fill="#089981"/>
<line x1="812.06" y1="192.25" x2="812.06" y2="217.5" stroke="#089981" stroke-width="1"/>
<rect x="810.26" y="203.75" width="3.6" height="11.85" fill="#089981"/>
<line x1="817.50" y1="183.5" x2="817.50" y2="206.25" stroke="#089981" stroke-width="1"/>
<rect x="815.70" y="199.4" width="3.6" height="4.35" fill="#089981"/>
<line x1="822.94" y1="190.0" x2="822.94" y2="205.6" stroke="#f23645" stroke-width="1"/>
<rect x="821.14" y="199.4" width="3.6" height="2.50" fill="#f23645"/>
<line x1="828.38" y1="196.9" x2="828.38" y2="219.4" stroke="#f23645" stroke-width="1"/>
<rect x="826.58" y="201.9" width="3.6" height="11.85" fill="#f23645"/>
<line x1="833.82" y1="195.0" x2="833.82" y2="218.1" stroke="#089981" stroke-width="1"/>
<rect x="832.02" y="198.1" width="3.6" height="15.65" fill="#089981"/>
<line x1="839.26" y1="192.25" x2="839.26" y2="201.25" stroke="#089981" stroke-width="1"/>
<rect x="837.46" y="195.0" width="3.6" height="4.00" fill="#089981"/>
<line x1="844.70" y1="190.25" x2="844.70" y2="198.5" stroke="#f23645" stroke-width="1"/>
<rect x="842.90" y="195.0" width="3.6" height="3.50" fill="#f23645"/>
</g>
<rect x="0" y="0" width="532" height="24" fill="#fff" fill-opacity="0.6"/>
<rect x="0" y="24" width="161" height="38" fill="#fff" fill-opacity="0.6"/>
<rect x="0" y="62" width="227.5" height="22" fill="#fff" fill-opacity="0.6"/>
<line x1="0" y1="343.5" x2="1024" y2="343.5" stroke="#e6e8ee" stroke-width="1"/>
<g clip-path="url(#rp)">
<rect x="0" y="404.6" width="963" height="73.8" fill="#7e57c2" fill-opacity="0.1"/>
<line x1="0" y1="404.6" x2="963" y2="404.6" stroke="#787b86" stroke-width="1" stroke-dasharray="4,4" stroke-opacity="0.7"/>
<line x1="0" y1="441.6" x2="963" y2="441.6" stroke="#787b86" stroke-width="1" stroke-dasharray="4,4" stroke-opacity="0.35"/>
<line x1="0" y1="478.4" x2="963" y2="478.4" stroke="#787b86" stroke-width="1" stroke-dasharray="4,4" stroke-opacity="0.7"/>
<g clip-path="url(#above70)">
<polygon points="0.00,456.75 6.25,453.00 17.50,466.00 27.50,449.25 33.75,450.50 50.00,438.50 56.25,443.00 66.25,436.00 72.50,439.25 77.50,431.00 82.50,428.50 88.75,433.00 95.00,426.00 102.50,421.75 112.50,425.50 121.25,433.50 126.25,428.00 137.25,399.40 142.75,409.40 147.50,390.00 153.75,371.25 159.00,359.00 161.90,387.50 164.70,421.75 170.00,424.25 175.00,419.25 181.25,431.75 191.25,436.75 200.00,428.50 202.50,421.75 212.50,420.00 217.50,412.25 235.00,404.00 240.00,413.75 246.25,426.00 256.00,426.00 262.25,431.75 273.50,450.50 279.00,437.50 289.75,445.00 296.00,437.50 301.00,437.50 306.00,433.50 312.25,438.00 322.25,436.00 328.50,438.50 338.50,442.50 344.75,442.00 354.00,436.00 359.75,441.00 366.00,440.00 376.00,436.75 381.00,451.75 387.25,456.75 393.00,455.50 398.50,473.00 403.50,473.00 409.00,465.50 414.75,464.25 419.75,471.00 426.00,466.00 431.00,468.50 436.00,481.00 447.25,470.00 453.50,472.50 458.00,471.00 463.50,453.00 468.50,446.00 474.75,454.25 478.50,454.25 484.75,458.00 491.00,460.00 496.00,466.75 501.00,461.75 506.00,463.00 511.50,456.75 517.50,450.50 523.25,459.25 528.25,449.25 534.00,433.50 539.50,437.50 545.75,444.25 550.75,444.25 555.75,441.75 561.50,446.00 567.00,441.00 572.00,438.50 577.50,452.50 583.25,444.25 588.25,447.50 594.00,438.00 599.50,433.00 605.00,436.75 610.75,435.00 615.75,436.00 621.50,431.00 627.00,430.50 632.00,430.00 637.00,423.50 642.50,416.75 648.25,438.00 653.25,433.50 659.00,436.75 664.50,448.00 670.00,452.50 675.75,446.75 680.75,444.25 686.50,439.25 692.00,451.00 697.00,452.50 703.25,446.75 708.25,442.50 714.00,440.50 719.00,442.50 724.50,445.50 729.50,466.00 734.50,456.00 740.00,457.50 745.75,461.75 751.50,466.00 757.00,461.75 762.00,456.75 767.50,463.00 773.50,450.00 779.25,450.00 784.25,453.50 790.00,451.00 795.50,449.25 801.00,449.25 806.75,440.00 811.75,428.00 816.75,423.50 822.50,426.75 828.00,440.50 833.50,426.75 838.50,424.25 844.25,428.00 844.25,404.6 0,404.6" fill="url(#gg)"/>
</g>
<polyline points="0.00,446.75 15.00,451.75 30.00,454.25 47.50,451.75 70.00,448.00 90.00,440.50 110.00,433.00 125.00,430.50 142.50,423.00 150.00,419.00 158.75,411.50 175.00,410.25 187.50,412.25 217.50,412.25 235.00,420.50 245.00,420.00 256.00,420.50 266.00,421.00 278.50,423.50 301.00,431.00 321.00,436.75 341.00,440.00 361.00,438.50 376.00,438.00 391.00,441.75 406.00,448.00 426.00,455.50 441.00,463.00 456.00,468.50 468.50,467.50 481.00,465.50 496.00,464.25 512.00,461.75 523.25,459.25 534.50,455.00 562.00,450.00 577.00,445.50 599.50,441.75 617.00,441.00 632.00,438.50 642.00,436.00 654.50,433.50 662.00,433.00 674.50,435.00 687.00,436.75 702.00,440.00 717.00,442.50 732.00,448.00 747.00,450.00 768.00,454.25 783.00,454.25 800.50,456.75 818.00,450.00 828.00,446.00 844.25,438.00" fill="none" stroke="#f9d443" stroke-width="1.2"/>
<polyline points="0.00,456.75 6.25,453.00 17.50,466.00 27.50,449.25 33.75,450.50 50.00,438.50 56.25,443.00 66.25,436.00 72.50,439.25 77.50,431.00 82.50,428.50 88.75,433.00 95.00,426.00 102.50,421.75 112.50,425.50 121.25,433.50 126.25,428.00 137.25,399.40 142.75,409.40 147.50,390.00 153.75,371.25 159.00,359.00 161.90,387.50 164.70,421.75 170.00,424.25 175.00,419.25 181.25,431.75 191.25,436.75 200.00,428.50 202.50,421.75 212.50,420.00 217.50,412.25 235.00,404.00 240.00,413.75 246.25,426.00 256.00,426.00 262.25,431.75 273.50,450.50 279.00,437.50 289.75,445.00 296.00,437.50 301.00,437.50 306.00,433.50 312.25,438.00 322.25,436.00 328.50,438.50 338.50,442.50 344.75,442.00 354.00,436.00 359.75,441.00 366.00,440.00 376.00,436.75 381.00,451.75 387.25,456.75 393.00,455.50 398.50,473.00 403.50,473.00 409.00,465.50 414.75,464.25 419.75,471.00 426.00,466.00 431.00,468.50 436.00,481.00 447.25,470.00 453.50,472.50 458.00,471.00 463.50,453.00 468.50,446.00 474.75,454.25 478.50,454.25 484.75,458.00 491.00,460.00 496.00,466.75 501.00,461.75 506.00,463.00 511.50,456.75 517.50,450.50 523.25,459.25 528.25,449.25 534.00,433.50 539.50,437.50 545.75,444.25 550.75,444.25 555.75,441.75 561.50,446.00 567.00,441.00 572.00,438.50 577.50,452.50 583.25,444.25 588.25,447.50 594.00,438.00 599.50,433.00 605.00,436.75 610.75,435.00 615.75,436.00 621.50,431.00 627.00,430.50 632.00,430.00 637.00,423.50 642.50,416.75 648.25,438.00 653.25,433.50 659.00,436.75 664.50,448.00 670.00,452.50 675.75,446.75 680.75,444.25 686.50,439.25 692.00,451.00 697.00,452.50 703.25,446.75 708.25,442.50 714.00,440.50 719.00,442.50 724.50,445.50 729.50,466.00 734.50,456.00 740.00,457.50 745.75,461.75 751.50,466.00 757.00,461.75 762.00,456.75 767.50,463.00 773.50,450.00 779.25,450.00 784.25,453.50 790.00,451.00 795.50,449.25 801.00,449.25 806.75,440.00 811.75,428.00 816.75,423.50 822.50,426.75 828.00,440.50 833.50,426.75 838.50,424.25 844.25,428.00" fill="none" stroke="#7e57c2" stroke-width="1.2"/>
</g>
<line x1="0" y1="520.5" x2="1024" y2="520.5" stroke="#e0e3eb" stroke-width="1"/>
<circle cx="18" cy="10.1" r="5.1" fill="#17a098"/>
<path d="M15.2,9.2 L17.8,7.8 L20.4,9.2 L18.8,12.6 L17.2,12.6 Z" fill="#d8f0ee" opacity="0.75"/>
<circle cx="12.1" cy="15.8" r="6.0" fill="#fff"/>
<circle cx="12.1" cy="15.8" r="5.1" fill="#4a2a7f"/>
<circle cx="12.1" cy="15.8" r="3.1" fill="none" stroke="#b48a55" stroke-width="0.6" opacity="0.8"/>
<path d="M10.6,14.6 H13.6 L12.1,17.4 Z" fill="#c9995a"/>
<text x="27" y="18.8" font-size="14" fill="#131722" font-weight="normal" text-anchor="start" textLength="119" lengthAdjust="spacingAndGlyphs" >Pi Network/Tether</text>
<circle cx="151.1" cy="14.2" r="1.05" fill="#131722"/>
<text x="157.0" y="18.8" font-size="14" fill="#131722" font-weight="normal" text-anchor="start" textLength="15" lengthAdjust="spacingAndGlyphs" >4h</text>
<circle cx="178" cy="14.2" r="1.05" fill="#131722"/>
<text x="183.2" y="18.8" font-size="14" fill="#131722" font-weight="normal" text-anchor="start" textLength="26.3" lengthAdjust="spacingAndGlyphs" >OKX</text>
<circle cx="224.75" cy="12.75" r="7.5" fill="#089981" fill-opacity="0.15"/>
<circle cx="224.75" cy="12.75" r="3.8" fill="#089981"/>
<text x="240.3" y="17.6" font-size="11.5" fill="#131722" font-weight="normal" text-anchor="start" textLength="7.5" lengthAdjust="spacingAndGlyphs" >O</text>
<text x="249.2" y="17.6" font-size="11.5" fill="#f23645" font-weight="normal" text-anchor="start" textLength="35" lengthAdjust="spacingAndGlyphs" >0.2277</text>
<text x="290.3" y="17.6" font-size="11.5" fill="#131722" font-weight="normal" text-anchor="start" textLength="7.5" lengthAdjust="spacingAndGlyphs" >H</text>
<text x="297.9" y="17.6" font-size="11.5" fill="#f23645" font-weight="normal" text-anchor="start" textLength="35.5" lengthAdjust="spacingAndGlyphs" >0.2293</text>
<text x="339.5" y="17.6" font-size="11.5" fill="#131722" font-weight="normal" text-anchor="start" textLength="6.5" lengthAdjust="spacingAndGlyphs" >L</text>
<text x="346.0" y="17.6" font-size="11.5" fill="#f23645" font-weight="normal" text-anchor="start" textLength="35.5" lengthAdjust="spacingAndGlyphs" >0.2268</text>
<text x="386.4" y="17.6" font-size="11.5" fill="#131722" font-weight="normal" text-anchor="start" textLength="7.3" lengthAdjust="spacingAndGlyphs" >C</text>
<text x="394.8" y="17.6" font-size="11.5" fill="#f23645" font-weight="normal" text-anchor="start" textLength="35.5" lengthAdjust="spacingAndGlyphs" >0.2268</text>
<text x="435.8" y="17.6" font-size="11.5" fill="#f23645" font-weight="normal" text-anchor="start" textLength="40.8" lengthAdjust="spacingAndGlyphs" >−0.0009</text>
<text x="480.8" y="17.6" font-size="11.5" fill="#f23645" font-weight="normal" text-anchor="start" textLength="44.5" lengthAdjust="spacingAndGlyphs" >(−0.40%)</text>
<rect x="6.5" y="27.75" width="53.8" height="30.5" rx="4.5" fill="#fff" stroke="#f23645" stroke-width="1"/>
<rect x="103.75" y="27.75" width="53.5" height="30.5" rx="4.5" fill="#fff" stroke="#2962ff" stroke-width="1"/>
<text x="15.4" y="40.4" font-size="11.5" fill="#f23645" font-weight="bold" text-anchor="start" textLength="36" lengthAdjust="spacingAndGlyphs" >0.2268</text>
<text x="22.3" y="52.6" font-size="9.8" fill="#f23645" font-weight="normal" text-anchor="start" textLength="21.8" lengthAdjust="spacingAndGlyphs" >SELL</text>
<text x="68.3" y="45.7" font-size="9.8" fill="#131722" font-weight="normal" text-anchor="start" textLength="27" lengthAdjust="spacingAndGlyphs" >0.0002</text>
<text x="112.7" y="40.5" font-size="11.5" fill="#2962ff" font-weight="bold" text-anchor="start" textLength="35.4" lengthAdjust="spacingAndGlyphs" >0.2270</text>
<text x="121.3" y="52.6" font-size="9.8" fill="#2962ff" font-weight="normal" text-anchor="start" textLength="18.6" lengthAdjust="spacingAndGlyphs" >BUY</text>
<text x="6.6" y="76.8" font-size="11.5" fill="#131722" font-weight="normal" text-anchor="start" textLength="93" lengthAdjust="spacingAndGlyphs" >BB 20 SMA close 2</text>
<text x="106.9" y="76.8" font-size="11.5" fill="#2962ff" font-weight="normal" text-anchor="start" textLength="35.3" lengthAdjust="spacingAndGlyphs" >0.2209</text>
<text x="147.3" y="76.8" font-size="11.5" fill="#f23645" font-weight="normal" text-anchor="start" textLength="35.3" lengthAdjust="spacingAndGlyphs" >0.2288</text>
<text x="187.8" y="76.8" font-size="11.5" fill="#089981" font-weight="normal" text-anchor="start" textLength="35" lengthAdjust="spacingAndGlyphs" >0.2129</text>
<rect x="6.5" y="86.5" width="24.8" height="17.8" rx="3" fill="#fff" stroke="#e0e3eb" stroke-width="1"/>
<polyline points="15,96.8 18.65,93.1 22.3,96.8" fill="none" stroke="#131722" stroke-width="1.3"/>
<text x="900.8" y="41.3" font-size="12" fill="#2962ff" font-weight="normal" text-anchor="start" textLength="44.2" lengthAdjust="spacingAndGlyphs" >$0.2723</text>
<text x="900.8" y="105.0" font-size="12" fill="#2962ff" font-weight="normal" text-anchor="start" textLength="44.6" lengthAdjust="spacingAndGlyphs" >$0.2504</text>
<text x="900.8" y="248.1" font-size="12" fill="#f23645" font-weight="normal" text-anchor="start" textLength="44.4" lengthAdjust="spacingAndGlyphs" >$0.2155</text>
<text x="900.8" y="289.2" font-size="12" fill="#f23645" font-weight="normal" text-anchor="start" textLength="44.4" lengthAdjust="spacingAndGlyphs" >$0.2034</text>
<g fill="none" stroke="#9c27b0" stroke-width="1.3">
<path d="M 849.3 323.9 A 8.6 8.6 0 1 0 852.6 328.3"/>
</g>
<path d="M847.1,326 L841.3,331.6 L848.3,330.7 L841.9,336" fill="none" stroke="#9c27b0" stroke-width="1.5" stroke-linejoin="miter"/>
<circle cx="850.7" cy="324.5" r="2.7" fill="#f23645"/>
<text x="970.8" y="66.1" font-size="11" fill="#131722" font-weight="normal" text-anchor="start" textLength="32.6" lengthAdjust="spacingAndGlyphs" >0.2700</text>
<text x="970.8" y="97.5" font-size="11" fill="#131722" font-weight="normal" text-anchor="start" textLength="32.6" lengthAdjust="spacingAndGlyphs" >0.2600</text>
<text x="970.8" y="129.0" font-size="11" fill="#131722" font-weight="normal" text-anchor="start" textLength="32.6" lengthAdjust="spacingAndGlyphs" >0.2500</text>
<text x="970.8" y="160.5" font-size="11" fill="#131722" font-weight="normal" text-anchor="start" textLength="32.6" lengthAdjust="spacingAndGlyphs" >0.2400</text>
<text x="970.8" y="255.0" font-size="11" fill="#131722" font-weight="normal" text-anchor="start" textLength="32.6" lengthAdjust="spacingAndGlyphs" >0.2100</text>
<text x="970.8" y="286.6" font-size="11" fill="#131722" font-weight="normal" text-anchor="start" textLength="32.6" lengthAdjust="spacingAndGlyphs" >0.2000</text>
<text x="970.8" y="319.0" font-size="11" fill="#131722" font-weight="normal" text-anchor="start" textLength="32.6" lengthAdjust="spacingAndGlyphs" >0.1900</text>
<text x="970.8" y="34.0" font-size="11" fill="#131722" font-weight="normal" text-anchor="start" textLength="32.6" lengthAdjust="spacingAndGlyphs" >0.2800</text>
<rect x="963.5" y="0" width="61" height="28.6" fill="#fff"/>
<rect x="967.5" y="2.5" width="51.6" height="21.8" rx="4" fill="#fff" stroke="#e0e3eb" stroke-width="1"/>
<text x="970.4" y="17.8" font-size="11" fill="#131722" font-weight="normal" text-anchor="start" textLength="24.6" lengthAdjust="spacingAndGlyphs" >USDT</text>
<polyline points="1010,12.3 1012.3,14.8 1014.6,12.3" fill="none" stroke="#131722" stroke-width="1.3"/>
<path d="M963.5,175.3 H1006.5 a2,2 0 0 1 2,2 V188.8 a2,2 0 0 1 -2,2 H963.5 Z" fill="#f23645"/>
<path d="M963.5,190.8 H1015.7 a2,2 0 0 1 2,2 V216.3 a2,2 0 0 1 -2,2 H963.5 Z" fill="#f23645"/>
<rect x="921" y="190.8" width="41.7" height="14.7" rx="2" fill="#f23645"/>
<path d="M963.5,218.7 H1006.5 a2,2 0 0 1 2,2 V231.3 a2,2 0 0 1 -2,2 H963.5 Z" fill="#2962ff"/>
<text x="971.6" y="187.1" font-size="11" fill="#fff" font-weight="normal" text-anchor="start" textLength="32.8" lengthAdjust="spacingAndGlyphs" >0.2288</text>
<text x="924.8" y="202.5" font-size="11" fill="#fff" font-weight="normal" text-anchor="start" textLength="33.8" lengthAdjust="spacingAndGlyphs" >PIUSDT</text>
<text x="971.6" y="202.2" font-size="11" fill="#fff" font-weight="normal" text-anchor="start" textLength="32.8" lengthAdjust="spacingAndGlyphs" >0.2268</text>
<text x="971.6" y="215.0" font-size="11" fill="#fff" font-weight="normal" text-anchor="start" textLength="42.8" lengthAdjust="spacingAndGlyphs" >01:48:05</text>
<text x="971.6" y="230.4" font-size="11" fill="#fff" font-weight="normal" text-anchor="start" textLength="32.8" lengthAdjust="spacingAndGlyphs" >0.2209</text>
<path d="M963.5,235 H1006.5 a2,2 0 0 1 2,2 V247.7 a2,2 0 0 1 -2,2 H963.5 Z" fill="#089981"/>
<text x="971.6" y="246.4" font-size="11" fill="#fff" font-weight="normal" text-anchor="start" textLength="32.8" lengthAdjust="spacingAndGlyphs" >0.2129</text>
<text x="6.8" y="362.7" font-size="11.5" fill="#131722" font-weight="normal" text-anchor="start" textLength="61" lengthAdjust="spacingAndGlyphs" >RSI 14 close</text>
<text x="75.2" y="362.7" font-size="11.5" fill="#7e57c2" font-weight="normal" text-anchor="start" textLength="29" lengthAdjust="spacingAndGlyphs" >57.36</text>
<text x="109.6" y="362.7" font-size="11.5" fill="#f5c518" font-weight="normal" text-anchor="start" textLength="29" lengthAdjust="spacingAndGlyphs" >51.47</text>
<text x="971.3" y="352.2" font-size="11" fill="#131722" font-weight="normal" text-anchor="start" textLength="32.4" lengthAdjust="spacingAndGlyphs" >100.00</text>
<text x="970.5" y="389.8" font-size="11" fill="#131722" font-weight="normal" text-anchor="start" textLength="27.2" lengthAdjust="spacingAndGlyphs" >80.00</text>
<text x="970.5" y="427.0" font-size="11" fill="#131722" font-weight="normal" text-anchor="start" textLength="27.2" lengthAdjust="spacingAndGlyphs" >60.00</text>
<text x="970.5" y="464.2" font-size="11" fill="#131722" font-weight="normal" text-anchor="start" textLength="27.2" lengthAdjust="spacingAndGlyphs" >40.00</text>
<path d="M963.9,420.3 H1001 a2,2 0 0 1 2,2 V435.6 H963.9 Z" fill="#7e57c2"/>
<path d="M963.9,435.6 H1003 V448.8 a2,2 0 0 1 -2,2 H963.9 Z" fill="#fdd835"/>
<text x="971.6" y="431.9" font-size="11" fill="#fff" font-weight="normal" text-anchor="start" textLength="26.8" lengthAdjust="spacingAndGlyphs" >57.36</text>
<text x="971.6" y="446.6" font-size="11" fill="#131722" font-weight="normal" text-anchor="start" textLength="26.8" lengthAdjust="spacingAndGlyphs" >51.47</text>
<g stroke="#fff" stroke-width="2.4" stroke-linejoin="round" fill="#131722" paint-order="stroke">
<path d="M9.2,469.2 H20.5 V482.3 H14.5 V474 H9.2 Z"/>
<circle cx="25" cy="471.2" r="2.5"/>
<path d="M29.3,469.2 H36.3 L32,482.3 H25 Z"/>
</g>
<text x="43.2" y="482.5" font-size="17.5" fill="#131722" font-weight="bold" text-anchor="start" textLength="109.6" lengthAdjust="spacingAndGlyphs" stroke="#fff" stroke-width="2.4" paint-order="stroke" stroke-linejoin="round">TradingView</text>
<text x="17.4" y="512.2" font-size="11" fill="#131722" font-weight="normal" text-anchor="middle" >23</text>
<text x="83" y="512.2" font-size="11" fill="#131722" font-weight="normal" text-anchor="middle" >25</text>
<text x="148" y="512.2" font-size="11" fill="#131722" font-weight="normal" text-anchor="middle" >27</text>
<text x="213" y="512.2" font-size="11" fill="#131722" font-weight="normal" text-anchor="middle" >29</text>
<text x="376" y="512.2" font-size="11" fill="#131722" font-weight="normal" text-anchor="middle" >3</text>
<text x="441.5" y="512.2" font-size="11" fill="#131722" font-weight="normal" text-anchor="middle" >5</text>
<text x="507" y="512.2" font-size="11" fill="#131722" font-weight="normal" text-anchor="middle" >7</text>
<text x="572" y="512.2" font-size="11" fill="#131722" font-weight="normal" text-anchor="middle" >9</text>
<text x="637" y="512.2" font-size="11" fill="#131722" font-weight="normal" text-anchor="middle" >11</text>
<text x="702.5" y="512.2" font-size="11" fill="#131722" font-weight="normal" text-anchor="middle" >13</text>
<text x="767.5" y="512.2" font-size="11" fill="#131722" font-weight="normal" text-anchor="middle" >15</text>
<text x="833.5" y="512.2" font-size="11" fill="#131722" font-weight="normal" text-anchor="middle" >17</text>
<text x="899" y="512.2" font-size="11" fill="#131722" font-weight="normal" text-anchor="middle" >19</text>
<text x="961" y="512.2" font-size="11" fill="#131722" font-weight="normal" text-anchor="middle" >2</text>
<text x="301.8" y="512.2" font-size="11" fill="#131722" font-weight="bold" text-anchor="start" textLength="18.8" lengthAdjust="spacingAndGlyphs" >Nov</text>
<polygon points="987.1,508 990.5,502.1 997.3,502.1 1000.7,508 997.3,513.9 990.5,513.9" fill="none" stroke="#131722" stroke-width="1.1"/>
<circle cx="993.9" cy="508" r="2.2" fill="none" stroke="#131722" stroke-width="1.1"/>
<text x="11.6" y="543.1" font-size="12.5" fill="#131722" font-weight="normal" text-anchor="start" textLength="14.4" lengthAdjust="spacingAndGlyphs" >1D</text>
<text x="36.7" y="543.1" font-size="12.5" fill="#131722" font-weight="normal" text-anchor="start" textLength="14.4" lengthAdjust="spacingAndGlyphs" >5D</text>
<text x="62.2" y="543.1" font-size="12.5" fill="#131722" font-weight="normal" text-anchor="start" textLength="15.5" lengthAdjust="spacingAndGlyphs" >1M</text>
<text x="88.7" y="543.1" font-size="12.5" fill="#131722" font-weight="normal" text-anchor="start" textLength="15.7" lengthAdjust="spacingAndGlyphs" >3M</text>
<text x="114.8" y="543.1" font-size="12.5" fill="#131722" font-weight="normal" text-anchor="start" textLength="16" lengthAdjust="spacingAndGlyphs" >6M</text>
<text x="141.8" y="543.1" font-size="12.5" fill="#131722" font-weight="normal" text-anchor="start" textLength="13.8" lengthAdjust="spacingAndGlyphs" >All</text>
<line x1="166" y1="528.7" x2="166" y2="548.7" stroke="#e0e3eb" stroke-width="1"/>
<g fill="none" stroke="#131722" stroke-width="1.2" stroke-linecap="round" stroke-linejoin="round">
<path d="M179.6,536.5 V533 a2,2 0 0 1 2,-2 H193.4 a2,2 0 0 1 2,2 V543 a2,2 0 0 1 -2,2 H187.6"/>
<path d="M179.6,535 H195.4"/>
<path d="M184.3,529.2 V532.6 M190.5,529.2 V532.6"/>
<path d="M178,542 H185.4 M182.3,539 L185.4,542 L182.3,545"/>
</g>
<text x="907.2" y="543.2" font-size="12.5" fill="#131722" font-weight="normal" text-anchor="start" textLength="106.6" lengthAdjust="spacingAndGlyphs" >11:41:54 UTC+5:30</text>
</svg></body></html>
